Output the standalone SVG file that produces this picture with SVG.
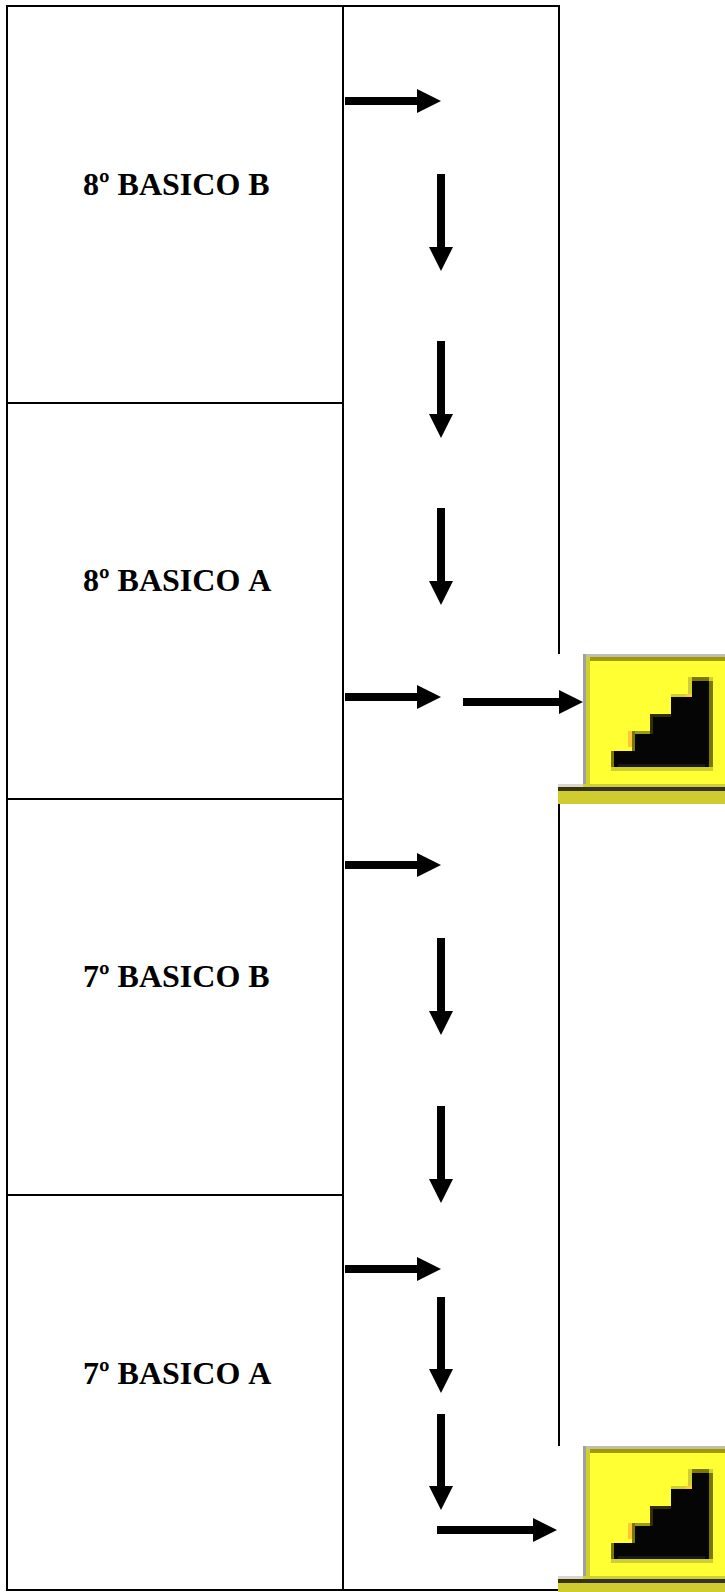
<svg xmlns="http://www.w3.org/2000/svg" width="725" height="1592" viewBox="0 0 725 1592">
<style>
.cell{fill:#fff;stroke:#000;stroke-width:2}
.lbl{font-family:"Liberation Serif","Times New Roman",serif;font-weight:bold;font-size:32px;fill:#000;font-kerning:none}
.rule{fill:none;stroke:#000;stroke-width:2}
.arr{fill:none;stroke:#000;stroke-width:8;marker-end:url(#head)}
.dk{fill:#7a7800}
.lt{fill:#cfcf30}
.or{fill:#ffc83a}
</style>
<defs>
<marker id="head" markerUnits="userSpaceOnUse" markerWidth="24" markerHeight="24" refX="0" refY="12" orient="auto" viewBox="0 0 24 24"><path d="M0 0L24 12L0 24Z" fill="#000"/></marker>
<g id="stair">
<rect x="558" y="654" width="167" height="150" fill="#fff"/>
<rect x="586" y="657" width="139" height="130" fill="#ffff33"/>
<rect x="583" y="654" width="142" height="3" fill="#bdbdb0"/>
<rect x="583" y="654" width="3" height="130" fill="#a0a0a0"/>
<rect x="586" y="657" width="139" height="4" fill="#a09c00"/>
<rect x="586" y="657" width="4" height="130" class="lt"/>
<rect x="558" y="784" width="167" height="3" class="lt"/>
<rect x="558" y="784" width="25" height="3" fill="#d8d8d0"/>
<rect x="558" y="787" width="167" height="4" fill="#333333"/>
<rect x="558" y="787" width="28" height="4" fill="#3a3400"/>
<rect x="558" y="791" width="167" height="13" fill="#cfcc30"/>
<rect x="611" y="751" width="3" height="16" class="dk"/>
<rect x="611" y="767" width="102" height="4" class="lt"/>
<rect x="628" y="731" width="4" height="16" class="or"/>
<rect x="632" y="731" width="18" height="3" fill="#9a9a20"/>
<rect x="632" y="731" width="3" height="20" class="dk"/>
<rect x="650" y="714" width="21" height="3" fill="#333000"/>
<rect x="650" y="714" width="3" height="20" fill="#333000"/>
<rect x="671" y="694" width="17" height="3" class="lt"/>
<rect x="685" y="694" width="7" height="3" class="or"/>
<rect x="688" y="677" width="4" height="17" class="lt"/>
<rect x="692" y="677" width="17" height="4" class="dk"/>
<rect x="709" y="677" width="4" height="4" class="lt"/>
<rect x="709" y="681" width="4" height="86" class="dk"/>
<path d="M614 767V751H635V734H653V717H671V697H692V681H709V767Z" fill="#050505"/>
<rect x="618" y="764" width="87" height="3" fill="#1a1a1a"/>
</g>
</defs>
<rect width="725" height="1592" fill="#fff"/>
<g id="table">
<g id="cell-8b"><rect class="cell" x="7" y="6" width="336" height="397"/><text class="lbl" x="83" y="195">8º BASICO B</text></g>
<g id="cell-8a"><rect class="cell" x="7" y="403" width="336" height="396"/><text class="lbl" x="83" y="591">8º BASICO A</text></g>
<g id="cell-7b"><rect class="cell" x="7" y="799" width="336" height="396"/><text class="lbl" x="83" y="987">7º BASICO B</text></g>
<g id="cell-7a"><rect class="cell" x="7" y="1195" width="336" height="395"/><text class="lbl" x="83" y="1384">7º BASICO A</text></g>
<path id="frame" class="rule" d="M343 6H559V1590H343"/>
</g>
<g id="icon-top"><use href="#stair"/></g>
<g id="icon-bottom"><use href="#stair" y="792"/></g>
<g id="connectors">
<line class="arr" x1="345" y1="101" x2="417" y2="101"/>
<line class="arr" x1="441" y1="174" x2="441" y2="247"/>
<line class="arr" x1="441" y1="341" x2="441" y2="414"/>
<line class="arr" x1="441" y1="508" x2="441" y2="581"/>
<line class="arr" x1="345" y1="697" x2="417" y2="697"/>
<line class="arr" x1="463" y1="702" x2="559" y2="702"/>
<line class="arr" x1="345" y1="865" x2="417" y2="865"/>
<line class="arr" x1="441" y1="938" x2="441" y2="1011"/>
<line class="arr" x1="441" y1="1106" x2="441" y2="1179"/>
<line class="arr" x1="345" y1="1269" x2="417" y2="1269"/>
<line class="arr" x1="441" y1="1297" x2="441" y2="1369"/>
<line class="arr" x1="441" y1="1414" x2="441" y2="1486"/>
<line class="arr" x1="437" y1="1530" x2="533" y2="1530"/>
</g>
</svg>
